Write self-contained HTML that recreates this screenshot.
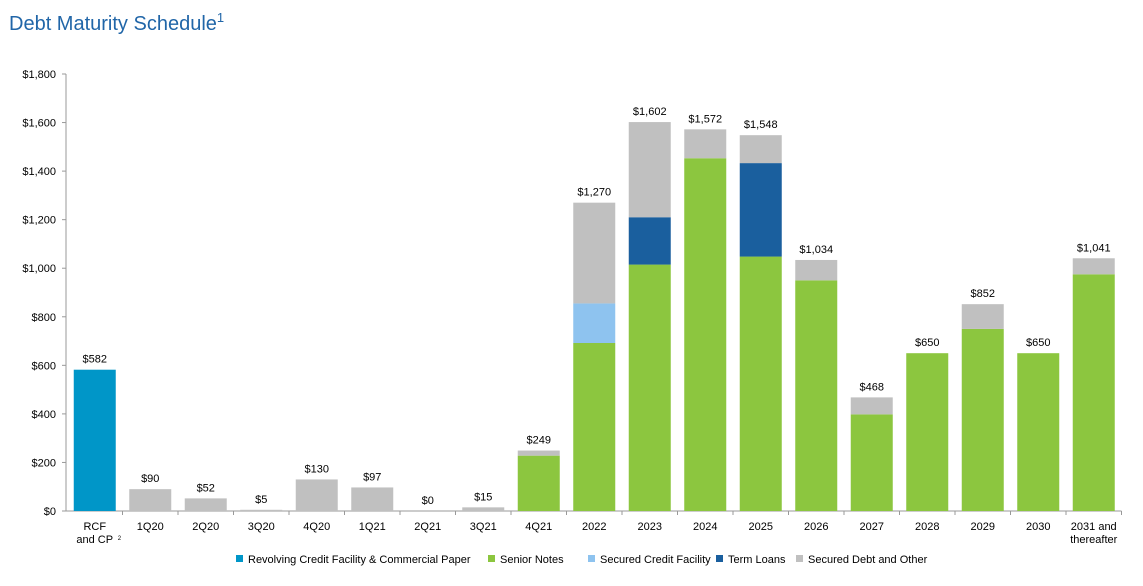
<!DOCTYPE html>
<html><head><meta charset="utf-8"><style>
body{margin:0;background:#fff;font-family:"Liberation Sans",Arial,sans-serif;}
</style></head><body>
<svg width="1143" height="581" xmlns="http://www.w3.org/2000/svg" font-family="Liberation Sans, Arial, sans-serif">
<text x="9" y="30" font-size="20" fill="#2166a8">Debt Maturity Schedule<tspan font-size="13" dy="-8">1</tspan></text>
<g id="axes"></g><g id="bars"></g><g id="legend"></g>
</svg>
<script>
const categories=["RCF|and CP","1Q20","2Q20","3Q20","4Q20","1Q21","2Q21","3Q21","4Q21","2022","2023","2024","2025","2026","2027","2028","2029","2030","2031 and|thereafter"];
const rcf=[582,0,0,0,0,0,0,0,0,0,0,0,0,0,0,0,0,0,0];
const senior=[0,0,0,0,0,0,0,0,228,692,1015,1453,1048,950,398,650,750,650,975];
const securedCredit=[0,0,0,0,0,0,0,0,0,163,0,0,0,0,0,0,0,0,0];
const termLoans=[0,0,0,0,0,0,0,0,0,0,195,0,385,0,0,0,0,0,0];
const securedOther=[0,90,52,5,130,97,0,15,21,415,392,119,115,84,70,0,102,0,66];
const totalLabels=["$582","$90","$52","$5","$130","$97","$0","$15","$249","$1,270","$1,602","$1,572","$1,548","$1,034","$468","$650","$852","$650","$1,041"];
const yTicks=[0,200,400,600,800,1000,1200,1400,1600,1800];
const series=[{name:"Revolving Credit Facility & Commercial Paper",vals:rcf,color:"#0096c8",key:"rcf"},{name:"Senior Notes",vals:senior,color:"#8cc63f",key:"senior-notes"},{name:"Secured Credit Facility",vals:securedCredit,color:"#8ec3ef",key:"secured-credit-facility"},{name:"Term Loans",vals:termLoans,color:"#1a5f9e",key:"term-loans"},{name:"Secured Debt and Other",vals:securedOther,color:"#c0c0c0",key:"secured-debt-other"}];
const NS="http://www.w3.org/2000/svg";
const x0=67,step=55.5,bw=42,yBase=511,yTop=74,yMax=1800;
const y=v=>yBase-(v/yMax)*(yBase-yTop);
const xc=i=>x0+step*(i+0.5);
function mk(tag,attrs,parent,text){const e=document.createElementNS(NS,tag);for(const k in attrs)e.setAttribute(k,attrs[k]);if(text!==undefined)e.textContent=text;parent.appendChild(e);return e;}
const axes=document.getElementById('axes'),bars=document.getElementById('bars'),legend=document.getElementById('legend');
let l=mk('line',{x1:66,x2:66,y1:yTop,y2:yBase,stroke:'#999'},axes);


l=mk('line',{x1:66,x2:x0+step*categories.length,y1:yBase,y2:yBase,stroke:'#999'},axes);


yTicks.forEach(t=>{
  mk('line',{x1:62,x2:66,y1:y(t),y2:y(t),stroke:'#999'},axes);
  const tx=mk('text',{x:56,y:y(t)+4,'font-size':11,'text-anchor':'end',fill:'#000'},axes,'$'+t.toLocaleString('en-US'));
  
  
});
categories.forEach((c,i)=>{
  const bx=x0+step*(i+1);
  mk('line',{x1:bx,x2:bx,y1:yBase,y2:yBase+4,stroke:'#999'},axes);
  const parts=c.split('|');
  parts.forEach((p,j)=>{
    const tx=mk('text',{x:xc(i),y:530+j*13,'font-size':11,'text-anchor':'middle',fill:'#000'},axes,p);
    
    
  });
  if(i===0){mk('text',{x:xc(i)+23,y:540,'font-size':6,fill:'#000'},axes,'2');}
  let cum=0;
  series.forEach(s=>{
    const v=s.vals[i];if(!v)return;
    const r=mk('rect',{x:xc(i)-bw/2,y:y(cum+v),width:bw,height:y(cum)-y(cum+v),fill:s.color},bars);
    
    
    cum+=v;
  });
  const tl=mk('text',{x:xc(i),y:y(cum)-7,'font-size':11,'text-anchor':'middle',fill:'#000'},bars,totalLabels[i]);
  
  
});
const lx=[236,488,588,716,796];
series.forEach((s,k)=>{
  mk('rect',{x:lx[k],y:555,width:7,height:7,fill:s.color},legend);
  const t=mk('text',{x:lx[k]+12,y:563,'font-size':11,fill:'#000'},legend,s.name);
  
  
});
</script>
</body></html>
